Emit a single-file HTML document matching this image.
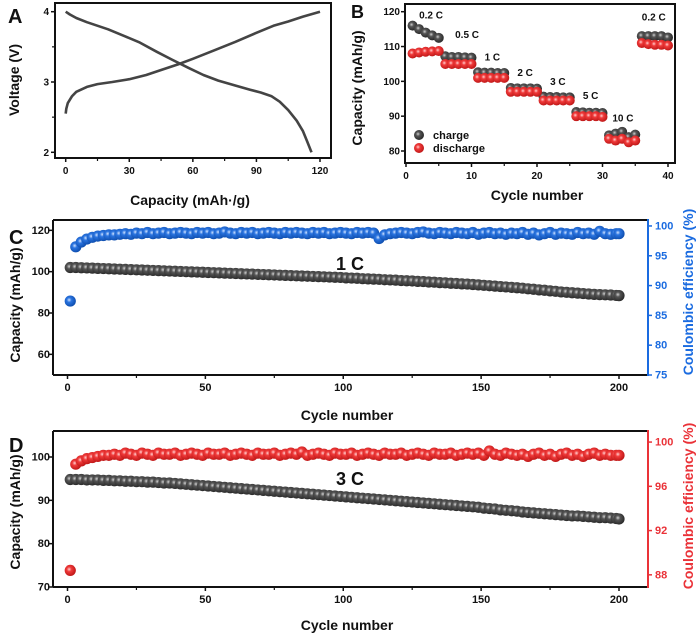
<!DOCTYPE html>
<html><head><meta charset="utf-8">
<style>
html,body{margin:0;padding:0;background:#fff;}
svg{display:block;font-family:"Liberation Sans",Arial,sans-serif;font-weight:bold;}
</style></head>
<body>
<svg id="fig" width="700" height="638" viewBox="0 0 700 638" xmlns="http://www.w3.org/2000/svg">
<defs>
<radialGradient id="gGray" cx="40%" cy="40%" r="60%"><stop offset="0" stop-color="#cfcfcf"/><stop offset="0.35" stop-color="#555"/><stop offset="1" stop-color="#2a2a2a"/></radialGradient>
<radialGradient id="gRed" cx="40%" cy="40%" r="60%"><stop offset="0" stop-color="#ffd0d0"/><stop offset="0.35" stop-color="#f03a3a"/><stop offset="1" stop-color="#c01818"/></radialGradient>
<radialGradient id="gBlue" cx="40%" cy="40%" r="60%"><stop offset="0" stop-color="#cfe2ff"/><stop offset="0.35" stop-color="#2a74e0"/><stop offset="1" stop-color="#0f4fb0"/></radialGradient>
</defs>
</svg>
<script>
// ---------- Panel A data ----------
const aChargeCap = [0,0.3,1,3,5,10,15,22,30,38,45,53,60,70,80,90,98,105,112,120];
const aChargeV   = [2.55,2.62,2.7,2.8,2.86,2.93,2.97,3.0,3.04,3.1,3.17,3.25,3.33,3.45,3.57,3.7,3.8,3.86,3.93,4.0];
const aDisCap = [0,2,5,10,20,28,35,43,50,58,65,72,80,87,92,97,101,105,109,112,114,116];
const aDisV   = [4.0,3.96,3.91,3.85,3.75,3.65,3.56,3.43,3.32,3.2,3.1,3.02,2.95,2.89,2.85,2.8,2.72,2.6,2.45,2.3,2.15,2.0];
const aXTicks = ["0","30","60","90","120"];
const aYTicks = ["2","3","4"];
// ---------- Panel B data ----------
const bCycles = [1,2,3,4,5,6,7,8,9,10,11,12,13,14,15,16,17,18,19,20,21,22,23,24,25,26,27,28,29,30,31,32,33,34,35,36,37,38,39,40];
const bCharge = [116,115,114,113.2,112.5,107.2,107,107,106.9,106.8,102.6,102.5,102.5,102.4,102.4,98.1,98,98,98,97.9,95.6,95.5,95.5,95.4,95.4,91.2,91.1,91,91,90.9,84.5,85,85.5,84,84.7,113,113,113,113,112.6];
const bDischarge = [108,108.3,108.5,108.6,108.7,105,105,105,105,105,101,101,101,101,101,97,97,97,97,97,94.5,94.5,94.5,94.5,94.5,90,90,90,90,89.8,83.5,83,83.5,82.5,83,111,110.7,110.5,110.5,110.3];
const bXTicks = ["0","10","20","30","40"];
const bYTicks = ["80","90","100","110","120"];
const bRateLabels = ["0.2 C","0.5 C","1 C","2 C","3 C","5 C","10 C","0.2 C"];
const bRateLabelCycle = [2,7.5,12,17,22,27,31.5,36];
const bRateLabelValue = [118,112.5,106,101.5,99,95,88.5,117.5];
// ---------- Panel C data (every other cycle) ----------
const cCap = [102.0,102.0,101.9,101.8,101.7,101.6,101.5,101.4,101.3,101.2,
101.1,101.0,100.9,100.8,100.7,100.6,100.5,100.4,100.3,100.2,
100.1,100.0,99.9,99.8,99.7,99.6,99.5,99.4,99.3,99.2,
99.1,99.0,98.9,98.8,98.7,98.6,98.5,98.4,98.3,98.2,
98.1,98.0,97.9,97.8,97.7,97.6,97.5,97.4,97.3,97.2,
97.0,96.9,96.8,96.6,96.5,96.4,96.3,96.1,96.0,95.9,
95.7,95.6,95.5,95.3,95.2,95.0,94.9,94.7,94.6,94.4,
94.3,94.1,94.0,93.8,93.6,93.4,93.2,93.0,92.8,92.6,
92.4,92.2,92.0,91.7,91.5,91.2,91.0,90.7,90.5,90.2,
90.0,89.8,89.6,89.4,89.2,89.0,88.9,88.8,88.7,88.5];
const cCE = [87.4,96.5,97.3,97.8,98.1,98.3,98.4,98.5,98.5,98.6,
98.7,98.6,98.8,98.7,98.9,98.7,98.8,98.9,98.7,98.8,
98.9,98.8,98.7,98.9,98.8,98.9,98.7,98.8,99.0,98.8,
98.7,98.9,98.8,98.9,98.7,98.8,98.9,98.8,98.7,98.9,
98.8,98.9,98.8,98.7,98.9,98.8,98.9,98.7,98.8,98.9,
98.8,98.7,98.9,98.8,98.9,98.8,97.9,98.5,98.7,98.8,
98.9,98.8,98.7,98.9,99.0,98.8,98.7,98.9,98.8,98.7,
98.9,98.8,98.7,98.9,98.6,98.8,98.9,98.7,98.8,98.6,
98.8,98.7,98.9,98.6,98.8,98.5,98.7,98.9,98.6,98.8,
98.7,98.6,98.9,98.7,98.8,98.6,99.1,98.7,98.6,98.7];
const cXTicks = ["0","50","100","150","200"];
const cYTicks = ["60","80","100","120"];
const cY2Ticks = ["75","80","85","90","95","100"];
// ---------- Panel D data (every other cycle) ----------
const dCap = [94.8,94.8,94.8,94.7,94.7,94.7,94.6,94.6,94.5,94.5,
94.4,94.4,94.3,94.3,94.2,94.2,94.1,94.0,94.0,93.9,
93.8,93.7,93.6,93.5,93.4,93.3,93.2,93.1,93.0,92.9,
92.8,92.7,92.6,92.5,92.4,92.3,92.2,92.1,92.0,91.9,
91.8,91.7,91.6,91.5,91.4,91.3,91.2,91.1,91.0,90.9,
90.8,90.7,90.6,90.5,90.4,90.3,90.2,90.1,90.0,89.9,
89.8,89.7,89.6,89.5,89.4,89.3,89.2,89.1,89.0,88.9,
88.8,88.7,88.6,88.5,88.4,88.2,88.1,88.0,87.8,87.7,
87.6,87.5,87.3,87.2,87.1,87.0,86.9,86.8,86.7,86.6,
86.5,86.4,86.4,86.3,86.2,86.1,86.0,86.0,85.9,85.8];
const dCE = [88.4,98.0,98.3,98.5,98.6,98.7,98.8,98.8,98.9,98.8,
99.0,98.9,98.8,99.0,98.9,98.8,99.0,98.9,98.9,99.0,
98.8,98.9,99.0,98.9,98.8,99.0,98.9,98.9,99.0,98.8,
98.9,99.0,98.9,98.8,99.0,98.9,98.9,99.0,98.8,98.9,
99.0,98.9,99.1,98.8,98.9,99.0,98.9,98.8,99.0,98.9,
98.9,99.0,98.8,98.9,99.0,98.9,98.8,99.0,98.9,98.9,
99.0,98.8,98.9,99.0,98.9,98.8,99.0,98.9,98.9,99.0,
98.8,98.9,99.0,98.9,99.0,98.8,99.2,98.9,98.8,99.0,
98.9,98.8,98.9,98.7,98.9,99.0,98.8,98.9,98.7,98.9,
99.0,98.8,98.9,98.7,98.9,99.0,98.8,98.9,98.8,98.8];
const dXTicks = ["0","50","100","150","200"];
const dYTicks = ["70","80","90","100"];
const dY2Ticks = ["88","92","96","100"];

const svg = document.getElementById('fig');
const NS = 'http://www.w3.org/2000/svg';
function mk(tag, attrs, parent){
  const e = document.createElementNS(NS, tag);
  for (const k in attrs) e.setAttribute(k, attrs[k]);
  (parent||svg).appendChild(e); return e;
}
function txt(s, x, y, size, anchor, color, rot){
  const t = mk('text', {x:x, y:y, 'font-size':size, 'text-anchor':anchor||'middle', fill:color||'#111'});
  if (rot) t.setAttribute('transform', 'rotate(-90 '+x+' '+y+')');
  t.textContent = s; return t;
}
function lin(d0,d1,r0,r1){ return v => r0 + (v-d0)/(d1-d0)*(r1-r0); }

function frame(name, x0,y0,x1,y1){
  const r = mk('rect',{x:x0,y:y0,width:x1-x0,height:y1-y0,fill:'none',stroke:'#111','stroke-width':2});
  
  
}
function xTicks(g, ticks, sx, yb, minor, fs){
  ticks.forEach((t,i)=>{
    const x = sx(+t);
    mk('line',{x1:x,y1:yb,x2:x,y2:yb+4,stroke:'#111','stroke-width':1.5},g);
    const lb = txt(t, x, yb+16, fs||10);
    
    
    if (minor && i < ticks.length-1){
      const xm = sx((+t + +ticks[i+1])/2);
      mk('line',{x1:xm,y1:yb,x2:xm,y2:yb+3,stroke:'#111','stroke-width':1.2},g);
    }
  });
}
function yTicks(g, ticks, sy, xl, labelX, color, side, fs){
  ticks.forEach(t=>{
    const y = sy(+t);
    const dx = side==='right' ? 4 : -4;
    mk('line',{x1:xl,y1:y,x2:xl+dx,y2:y,stroke:color||'#111','stroke-width':1.5},g);
    const lb = txt(t, labelX, y+3.5, fs||10, side==='right'?'start':'end', color);
    
    
  });
}
function ball(g, x, y, r, grad, name){
  const c = mk('circle',{cx:x, cy:y, r:r, fill:'url(#'+grad+')'}, g);
  
  
}

// ===== Panel A =====
(function(){
  const g = mk('g',{});
  
  
  const sx = lin(0,120,65.7,320), sy = lin(2,4,152.3,11.7);
  frame('panel-a-frame',55,3,331,158);
  xTicks(g, aXTicks, sx, 158, true);
  yTicks(g, aYTicks, sy, 55, 49);
  [2.5,3.5].forEach(v=>mk('line',{x1:55,y1:sy(v),x2:52,y2:sy(v),stroke:'#111','stroke-width':1.2},g));
  const p1 = aChargeCap.map((c,i)=>(i?'L':'M')+sx(c).toFixed(1)+' '+sy(aChargeV[i]).toFixed(1)).join(' ');
  const l1 = mk('path',{d:p1,fill:'none',stroke:'#444','stroke-width':2.6,'stroke-linejoin':'round'},g);
  
  
  const p2 = aDisCap.map((c,i)=>(i?'L':'M')+sx(c).toFixed(1)+' '+sy(aDisV[i]).toFixed(1)).join(' ');
  const l2 = mk('path',{d:p2,fill:'none',stroke:'#444','stroke-width':2.6,'stroke-linejoin':'round'},g);
  
  
  const a = txt('A', 8, 23, 20, 'start');  
  const xt = txt('Capacity (mAh·/g)', 190, 205, 14);  
  const yt = txt('Voltage (V)', 19, 80, 14, 'middle', '#111', true);  
})();

// ===== Panel B =====
(function(){
  const g = mk('g',{});
  
  
  const sx = lin(0,40,406,668), sy = lin(80,120,151,11.7);
  frame('panel-b-frame',405,4,675,163);
  xTicks(g, bXTicks, sx, 163, true);
  yTicks(g, bYTicks, sy, 405, 400);
  bCycles.forEach((c,i)=>ball(g, sx(c), sy(bCharge[i]), 5, 'gGray', 'charge-point'));
  bCycles.forEach((c,i)=>ball(g, sx(c), sy(bDischarge[i]), 5, 'gRed', 'discharge-point'));
  bRateLabels.forEach((s,i)=>{
    const t = txt(s, sx(bRateLabelCycle[i]), sy(bRateLabelValue[i]), 10, 'start');
    
    
  });
  ball(g, 419, 135, 5, 'gGray', 'legend-charge-marker');
  ball(g, 419, 148, 5, 'gRed', 'legend-discharge-marker');
  const l1 = txt('charge', 433, 139, 11, 'start');  
  const l2 = txt('discharge', 433, 152, 11, 'start');  
  const b = txt('B', 351, 18, 18, 'start');  
  const xt = txt('Cycle number', 537, 200, 14);  
  const yt = txt('Capacity (mAh/g)', 362, 88, 14, 'middle', '#111', true);  
})();

// ===== Panels C and D =====
function longPanel(id, y0, y1, yDom, y2Dom, yT, y2T, cap, ce, grad2, col2, rateTxt, rateY, letter, letterY, xTitleY, yTitleY, y2TitleY){
  const g = mk('g',{});
  
  
  const sx = lin(0,200,67.5,619);
  const sy = lin(yDom[0],yDom[1],y1,y0);
  const sy2 = lin(y2Dom[0],y2Dom[1],y1,y0);
  mk('line',{x1:53,y1:y0,x2:648,y2:y0,stroke:'#111','stroke-width':2},g);
  mk('line',{x1:53,y1:y1,x2:648,y2:y1,stroke:'#111','stroke-width':2},g);
  mk('line',{x1:53,y1:y0,x2:53,y2:y1,stroke:'#111','stroke-width':2},g);
  const sp = mk('line',{x1:648,y1:y0-1,x2:648,y2:y1+1,stroke:col2,'stroke-width':2},g);
  
  
  xTicks(g, dXTicks, sx, y1, true, 11);
  yTicks(g, yT, sy, 53, 50, null, null, 11);
  yTicks(g, y2T, sy2, 648, 655, col2, 'right', 11);
  const n = cap.length;
  const R = 5.6;
  for (let i=0;i<n;i++){ const c = 1 + 2*i; ball(g, sx(c), sy(cap[i]), R, 'gGray', 'capacity-point'); }
  for (let i=0;i<n;i++){ const c = 1 + 2*i; ball(g, sx(c), sy2(ce[i]), R, grad2, 'efficiency-point'); }
  ball(g, sx(200), sy(cap[n-1]-0.1), R, 'gGray', 'capacity-point');
  ball(g, sx(200), sy2(ce[n-1]), R, grad2, 'efficiency-point');
  const r = txt(rateTxt, 336, rateY, 18, 'start');  
  const L = txt(letter, 9, letterY, 20, 'start');  
  const xt = txt('Cycle number', 347, xTitleY, 14);  
  const yt = txt('Capacity (mAh/g)', 20, yTitleY, 14, 'middle', '#111', true);  
  const y2t = txt('Coulombic efficiency (%)', 693, y2TitleY, 14, 'middle', col2, true);  
}
longPanel('c', 220, 375, [50,125], [75,101], cYTicks, cY2Ticks, cCap, cCE, 'gBlue', '#1a6be0', '1 C', 270, 'C', 244, 420, 305, 292);
longPanel('d', 431, 587, [70,106], [86.9,101], dYTicks, dY2Ticks, dCap, dCE, 'gRed', '#ea3238', '3 C', 485, 'D', 452, 630, 512, 506);
</script>
</body></html>
